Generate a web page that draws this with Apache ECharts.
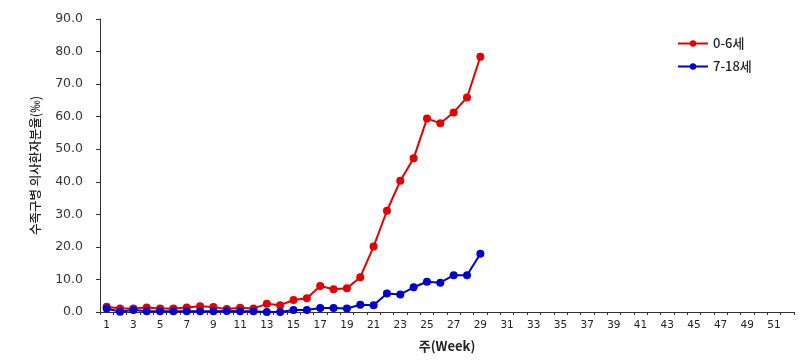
<!DOCTYPE html>
<html>
<head>
<meta charset="utf-8">
<script src="https://cdn.jsdelivr.net/npm/echarts@6/dist/echarts.min.js"></script>
<style>html,body{margin:0;padding:0;background:#fff}#c{width:806px;height:360px}</style>
</head>
<body>
<div id="c"></div>
<script>
var weeks = [];
for (var i = 1; i <= 52; i++) weeks.push(String(i));
var seriesNames = ['0-6세', '7-18세'];
var age0to6 = [1.6, 1.1, 1.1, 1.4, 1.1, 1.1, 1.4, 1.8, 1.5, 0.9, 1.3, 1.1, 2.5, 2.1, 3.7, 4.2, 8.0, 7.0, 7.3, 10.7, 20.1, 31.1, 40.3, 47.2, 59.4, 58.0, 61.3, 65.9, 78.4];
var age7to18 = [1.1, 0.1, 0.6, 0.2, 0.2, 0.2, 0.2, 0.2, 0.2, 0.3, 0.2, 0.2, 0.0, 0.0, 0.6, 0.6, 1.2, 1.2, 1.1, 2.2, 2.1, 5.7, 5.4, 7.6, 9.3, 9.0, 11.3, 11.3, 17.9];
var yTicks = { min: 0, max: 90, interval: 10 };

var chart = echarts.init(document.getElementById('c'));
chart.setOption({
  animation: false,
  backgroundColor: '#fff',
  grid: { left: 100, right: 12, top: 19, bottom: 48 },
  legend: {
    orient: 'vertical', left: 672, top: 32, itemWidth: 30, itemHeight: 8, itemGap: 10,
    textStyle: { fontFamily: 'Noto Sans CJK KR', fontSize: 13, fontWeight: 500, color: '#222' },
    data: seriesNames
  },
  xAxis: {
    type: 'category', data: weeks, boundaryGap: true,
    name: '주(Week)', nameLocation: 'middle', nameGap: 28,
    nameTextStyle: { fontFamily: 'Noto Sans CJK KR', fontSize: 13, fontWeight: 'bold', color: '#222' },
    axisLine: { lineStyle: { color: '#333', width: 1 } },
    axisTick: { show: true, interval: 0, length: 3, lineStyle: { color: '#333' } },
    axisLabel: { interval: 1, fontFamily: 'DejaVu Sans', fontSize: 10.5, color: '#222', margin: 8 },
    splitLine: { show: false }
  },
  yAxis: {
    type: 'value', min: yTicks.min, max: yTicks.max, interval: yTicks.interval,
    name: '수족구병 의사환자분율(‰)', nameLocation: 'middle', nameGap: 58, nameRotate: 90,
    nameTextStyle: { fontFamily: 'Noto Sans CJK KR', fontSize: 12.5, fontWeight: 500, color: '#222' },
    axisLine: { show: true, lineStyle: { color: '#333', width: 1 } },
    axisTick: { show: true, length: 4, lineStyle: { color: '#333' } },
    axisLabel: { formatter: function (v) { return v.toFixed(1); }, fontFamily: 'DejaVu Sans', fontSize: 12.5, color: '#333', margin: 17 },
    splitLine: { show: false }
  },
  series: [
    { name: seriesNames[0], type: 'line', data: age0to6, symbol: 'circle', symbolSize: 8,
      itemStyle: { color: '#e30000' }, lineStyle: { color: '#e30000', width: 2 } },
    { name: seriesNames[1], type: 'line', data: age7to18, symbol: 'circle', symbolSize: 8,
      itemStyle: { color: '#0000cc' }, lineStyle: { color: '#0000cc', width: 2 } }
  ]
});
</script>
</body>
</html>
